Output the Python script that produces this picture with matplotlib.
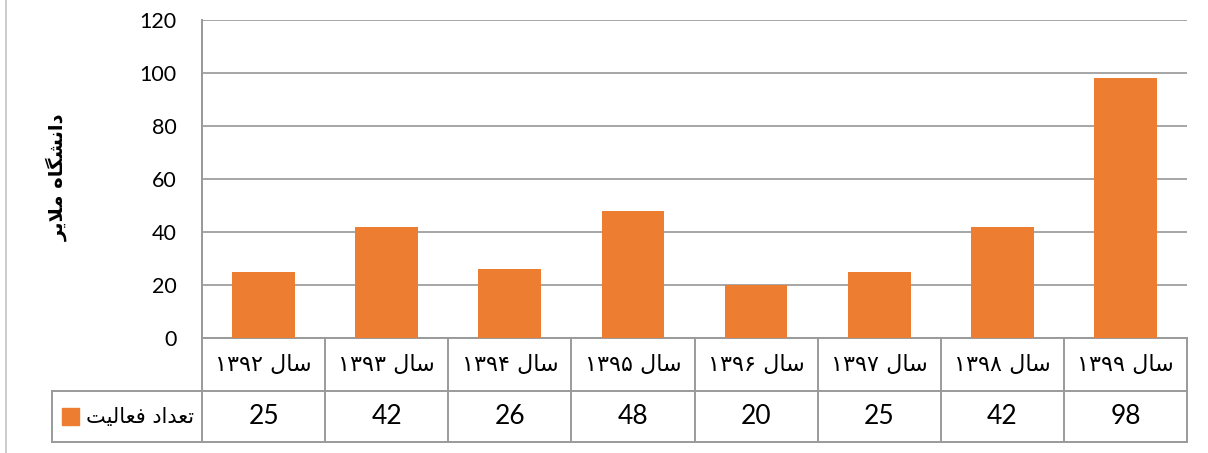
import matplotlib
matplotlib.use("Agg")
import matplotlib.pyplot as plt
import matplotlib.transforms as mtransforms
from matplotlib.patches import Rectangle
from matplotlib.lines import Line2D

# ---- data ----
categories = ["سال ۱۳۹۲", "سال ۱۳۹۳", "سال ۱۳۹۴", "سال ۱۳۹۵",
              "سال ۱۳۹۶", "سال ۱۳۹۷", "سال ۱۳۹۸", "سال ۱۳۹۹"]
values = [25, 42, 26, 48, 20, 25, 42, 98]
series_name = "تعداد فعالیت"
y_title = "دانشگاه ملایر"
y_ticks = [0, 20, 40, 60, 80, 100, 120]

BAR_COLOR = "#ED7D31"
GRID_COLOR = "#A6A6A6"
LINE_COLOR = "#9A9A9A"

# ---- minimal Arabic/Persian shaping (presentation forms + visual order) ----
FORMS = {  # isolated, final, initial, medial
    "ا": ("\uFE8D", "\uFE8E", None, None),
    "د": ("\uFEA9", "\uFEAA", None, None),
    "ر": ("\uFEAD", "\uFEAE", None, None),
    "ن": ("\uFEE5", "\uFEE6", "\uFEE7", "\uFEE8"),
    "ش": ("\uFEB5", "\uFEB6", "\uFEB7", "\uFEB8"),
    "گ": ("\uFB92", "\uFB93", "\uFB94", "\uFB95"),
    "ه": ("\uFEE9", "\uFEEA", "\uFEEB", "\uFEEC"),
    "م": ("\uFEE1", "\uFEE2", "\uFEE3", "\uFEE4"),
    "ل": ("\uFEDD", "\uFEDE", "\uFEDF", "\uFEE0"),
    "ی": ("\uFBFC", "\uFBFD", "\uFBFE", "\uFBFF"),
    "ت": ("\uFE95", "\uFE96", "\uFE97", "\uFE98"),
    "ع": ("\uFEC9", "\uFECA", "\uFECB", "\uFECC"),
    "ف": ("\uFED1", "\uFED2", "\uFED3", "\uFED4"),
    "س": ("\uFEB1", "\uFEB2", "\uFEB3", "\uFEB4"),
}


def _dual(c):
    return c in FORMS and FORMS[c][2] is not None


def shape_word(word):
    out = []
    i = 0
    n = len(word)
    while i < n:
        c = word[i]
        if c not in FORMS:
            out.append(c)
            i += 1
            continue
        prev_join = i > 0 and _dual(word[i - 1])
        if c == "ل" and i + 1 < n and word[i + 1] == "ا":
            out.append("\uFEFC" if prev_join else "\uFEFB")
            i += 2
            continue
        next_join = _dual(c) and i + 1 < n and word[i + 1] in FORMS
        iso, fin, ini, med = FORMS[c]
        if prev_join and next_join:
            out.append(med)
        elif prev_join:
            out.append(fin)
        elif next_join:
            out.append(ini)
        else:
            out.append(iso)
        i += 1
    return "".join(out)


def rtl(text):
    words = text.split(" ")
    vis = []
    for w in words:
        if any(ch in FORMS for ch in w):
            vis.append(shape_word(w)[::-1])
        else:
            vis.append(w)
    return " ".join(vis[::-1])


# ---- figure ----
W, H = 1208, 453
fig = plt.figure(figsize=(W / 100, H / 100), dpi=100)
fig.patch.set_facecolor("white")

left_px, right_px, top_px, bottom_px = 202, 1187, 20, 338
ax = fig.add_axes([left_px / W, 1 - bottom_px / H,
                   (right_px - left_px) / W, (bottom_px - top_px) / H])

n = len(categories)
x = list(range(n))
ax.bar(x, values, width=0.51, color=BAR_COLOR, zorder=3)
ax.set_xlim(-0.5, n - 0.5)
ax.set_ylim(0, 120)
ax.set_yticks(y_ticks)
ax.set_yticklabels([str(t) for t in y_ticks], family=["Lato", "DejaVu Sans"],
                   fontsize=15.5)
ax.tick_params(axis="y", length=0, pad=18.5)
ax.tick_params(axis="x", length=0, labelbottom=False)
ax.grid(axis="y", color=GRID_COLOR, linewidth=1.4, zorder=0)
for side in ("top", "right", "bottom"):
    ax.spines[side].set_visible(False)
ax.spines["left"].set_color(LINE_COLOR)
ax.spines["left"].set_linewidth(1.4)

# y axis title
fig.text(57 / W, 1 - 177 / H, rtl(y_title), rotation=90, ha="center",
         va="center", fontsize=14, fontweight="bold", family="DejaVu Sans")

# ---- data table below the plot ----
plot_h = bottom_px - top_px
row1 = -(391 - bottom_px) / plot_h
row2 = -(442 - bottom_px) / plot_h
legend_left = -0.5 - (left_px - 52) / ((right_px - left_px) / n)
tr = mtransforms.blended_transform_factory(ax.transData, ax.transAxes)
lkw = dict(color=LINE_COLOR, linewidth=1.4, transform=tr, clip_on=False)

ax.add_line(Line2D([-0.5, n - 0.5], [0, 0], **lkw))
ax.add_line(Line2D([legend_left, n - 0.5], [row1, row1], **lkw))
ax.add_line(Line2D([legend_left, n - 0.5], [row2, row2], **lkw))
ax.add_line(Line2D([legend_left, legend_left], [row1, row2], **lkw))
for k in range(n + 1):
    ax.add_line(Line2D([k - 0.5, k - 0.5], [0 if k else 1, row2], **lkw))

for i, (cat, val) in enumerate(zip(categories, values)):
    ax.text(i, row1 / 2, rtl(cat), transform=tr, ha="center", va="center",
            fontsize=16, family="DejaVu Sans")
    ax.text(i, (row1 + row2) / 2, str(val), transform=tr, ha="center",
            va="center", fontsize=19, family=["Lato", "DejaVu Sans"])

# legend key inside the table
cell_w = (right_px - left_px) / n
key_x = legend_left + (62 - 52) / cell_w
key_w = 17 / cell_w
key_h = 17 / plot_h
ymid = (row1 + row2) / 2
ax.add_patch(Rectangle((key_x, ymid - key_h / 2), key_w, key_h,
                       color=BAR_COLOR, transform=tr, clip_on=False))
ax.text(-0.5 - 8 / cell_w, ymid, rtl(series_name), transform=tr, ha="right",
        va="center", fontsize=15, family="DejaVu Sans")

# outer chart border (left edge)
fig.add_artist(Line2D([6 / W, 6 / W], [0, 1], color="#C8C8C8", linewidth=1.3,
                      transform=fig.transFigure))

fig.savefig("out.png", dpi=100)
